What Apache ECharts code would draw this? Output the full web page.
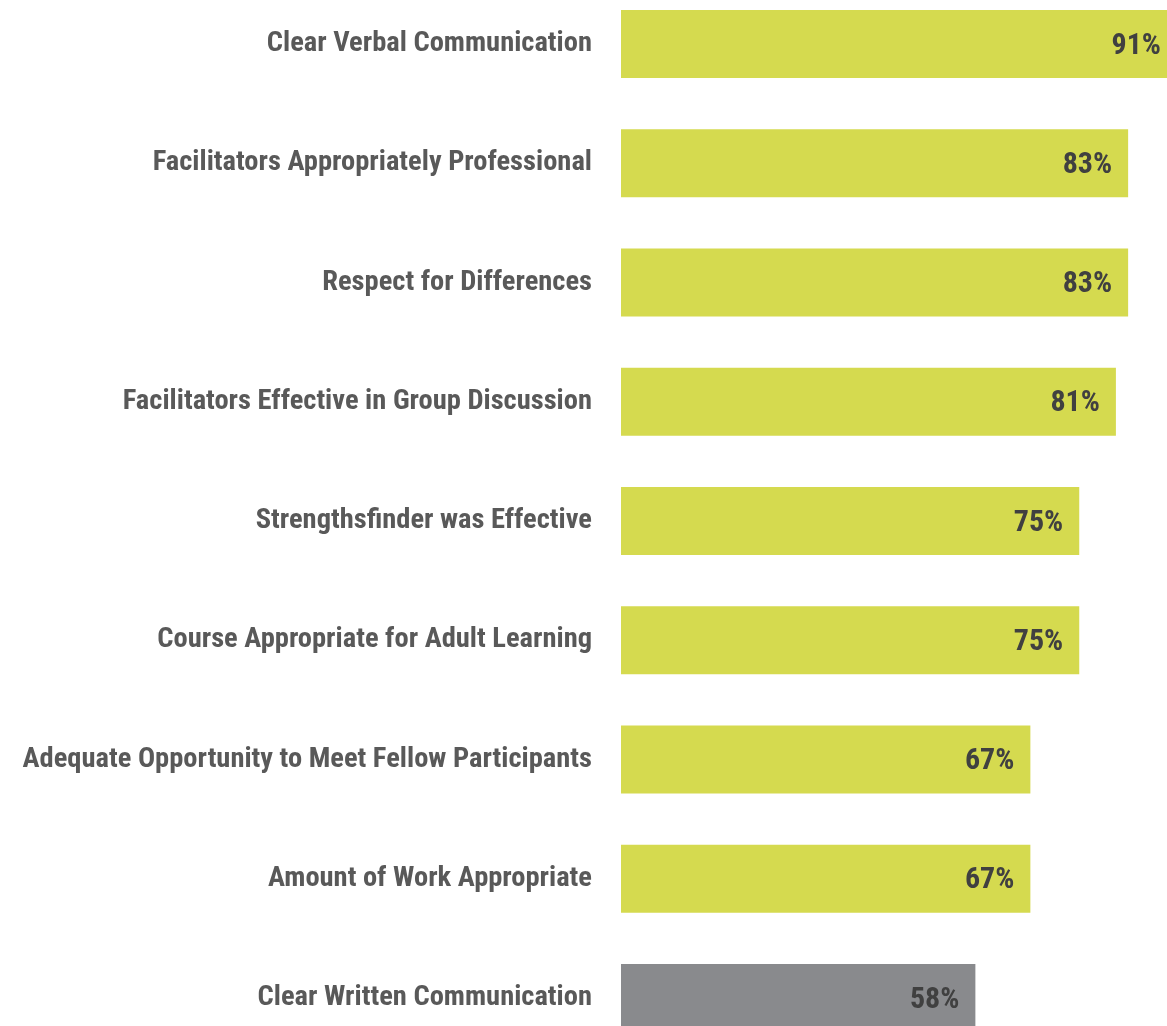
<!DOCTYPE html>
<html>
<head>
<meta charset="utf-8">
<script src="https://cdn.jsdelivr.net/npm/echarts@6/dist/echarts.min.js"></script>
<style>
  html, body { margin: 0; padding: 0; background: #fff; }
  #chart { width: 1167px; height: 1026px; }
</style>
</head>
<body>
<div id="chart"></div>
<script>
var categorias = [
  'Clear Verbal Communication',
  'Facilitators Appropriately Professional',
  'Respect for Differences',
  'Facilitators Effective in Group Discussion',
  'Strengthsfinder was Effective',
  'Course Appropriate for Adult Learning',
  'Adequate Opportunity to Meet Fellow Participants',
  'Amount of Work Appropriate',
  'Clear Written Communication'
];
var valores = [91, 83, 83, 81, 75, 75, 67, 67, 58];
var resaltados = [false, false, false, false, false, false, false, false, true];

var verde = '#D5DA4F';
var gris = '#898A8D';
var fuente = '"Roboto Condensed", "Liberation Sans Narrow", "Arial Narrow", sans-serif';

var datos = valores.map(function(v, i){
  return { value: v, itemStyle: { color: resaltados[i] ? gris : verde } };
});

var myChart = echarts.init(document.getElementById('chart'));
myChart.setOption({
  animation: false,
  grid: { left: 621, top: -15.6, width: 611, height: 1073.25, outerBoundsMode: 'none' },
  xAxis: {
    type: 'value', min: 0, max: 100, show: false
  },
  yAxis: {
    type: 'category',
    inverse: true,
    data: categorias,
    axisLine: { show: false },
    axisTick: { show: false },
    axisLabel: {
      margin: 29,
      padding: [6, 0, 0, 0],
      color: '#595959',
      fontFamily: fuente,
      fontWeight: 'bold',
      fontSize: 28.5
    }
  },
  series: [{
    type: 'bar',
    data: datos,
    barWidth: 68,
    label: {
      show: true,
      position: 'insideRight',
      distance: 16,
      offset: [0, 2],
      formatter: '{c}%',
      color: '#404040',
      fontWeight: 'bold',
      fontFamily: fuente,
      fontSize: 30
    }
  }]
});
</script>
</body>
</html>
